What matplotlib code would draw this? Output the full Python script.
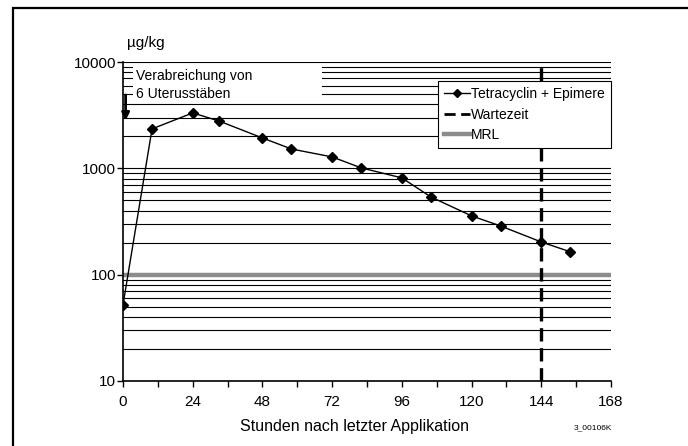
import numpy as np
import matplotlib.pyplot as plt
from matplotlib.patches import Rectangle
from matplotlib.lines import Line2D
from matplotlib.ticker import LogLocator

plt.rcParams['font.family'] = ['Liberation Sans', 'DejaVu Sans']

# data
hours = [0, 10, 24, 33, 48, 58, 72, 82, 96, 106, 120, 130, 144, 154]
conc = [52, 2350, 3320, 2790, 1930, 1520, 1280, 1010, 813, 538, 357, 287, 203, 164]
mrl = 100
wartezeit = 144
xticks = [0, 24, 48, 72, 96, 120, 144, 168]
yticks = [10, 100, 1000, 10000]

fig = plt.figure(figsize=(6.88, 4.46), dpi=100)
ax = fig.add_axes([123/688, 1-381/446, 488/688, 319/446])

# outer frame (only top and left edges are visible)
fig.patches.append(Rectangle((13/688, -0.1), 1.2, 1 - 8/446 + 0.1, transform=fig.transFigure,
                             fill=False, edgecolor='black', linewidth=1.6))

ax.set_yscale('log')
ax.set_ylim(10, 10000)
ax.set_xlim(0, 168)

ax.set_xticks(xticks)
ax.set_xticks(np.arange(0, 169, 12), minor=True)
ax.set_yticks(yticks)
ax.set_yticklabels([str(v) for v in yticks])
ax.yaxis.set_minor_locator(LogLocator(base=10, subs=np.arange(2, 10)))
ax.yaxis.set_minor_formatter(plt.NullFormatter())
ax.tick_params(which='both', direction='out', length=4, width=1, labelsize=11, color='black')
ax.tick_params(axis='y', which='minor', length=0)
ax.tick_params(axis='x', pad=6)
ax.tick_params(axis='y', pad=1)

ax.grid(True, which='both', axis='y', color='black', linewidth=0.8)
ax.set_axisbelow(True)

ax.axhline(mrl, color='#8c8c8c', linewidth=3.2, zorder=2)
ax.plot(hours, conc, color='black', linewidth=1, marker='D', markersize=5, zorder=4)
ax.axvline(wartezeit, color='black', linewidth=2.4, dashes=(4, 2), zorder=3)

for side in ['top', 'right']:
    ax.spines[side].set_visible(False)
for side in ['left', 'bottom']:
    ax.spines[side].set_linewidth(1.2)
    ax.spines[side].set_zorder(5)

fig.text(354/688, 1-427/446, 'Stunden nach letzter Applikation', fontsize=11.5,
         ha='center', va='center')

# annotation box
ax.add_patch(Rectangle((3.4, 10 ** 3.64), 65, 10 ** 3.985 - 10 ** 3.64,
                       facecolor='white', edgecolor='none', zorder=2))
ax.text(4.5, 10 ** 3.869, 'Verabreichung von', fontsize=10, va='center', zorder=3)
ax.text(4.5, 10 ** 3.70, '6 Uterusstäben', fontsize=10, va='center', zorder=3)
ax.annotate('', xy=(0.9, 2650), xytext=(0.9, 5200),
            arrowprops=dict(arrowstyle='-|>', color='black', lw=2, mutation_scale=11),
            zorder=5)

fig.text(127/688, 1-43/446, 'µg/kg', fontsize=11, va='center')
fig.text(593/688, 1-428/446, '3_00106K', fontsize=6, ha='center', va='center')

handles = [Line2D([], [], color='black', lw=1, marker='D', markersize=4),
           Line2D([], [], color='black', lw=2, dashes=(4, 2)),
           Line2D([], [], color='#8c8c8c', lw=3.2)]
leg = ax.legend(handles, ['Tetracyclin + Epimere', 'Wartezeit', 'MRL'],
                loc='upper right', bbox_to_anchor=(1.0, 1 - 19/319), borderaxespad=0,
                fontsize=10, handlelength=1.9, handletextpad=0.05, fancybox=False,
                framealpha=1, edgecolor='black', labelspacing=0.45, borderpad=0.45)
leg.get_frame().set_linewidth(0.8)
leg.set_zorder(6)

fig.savefig('out.png', dpi=100)
